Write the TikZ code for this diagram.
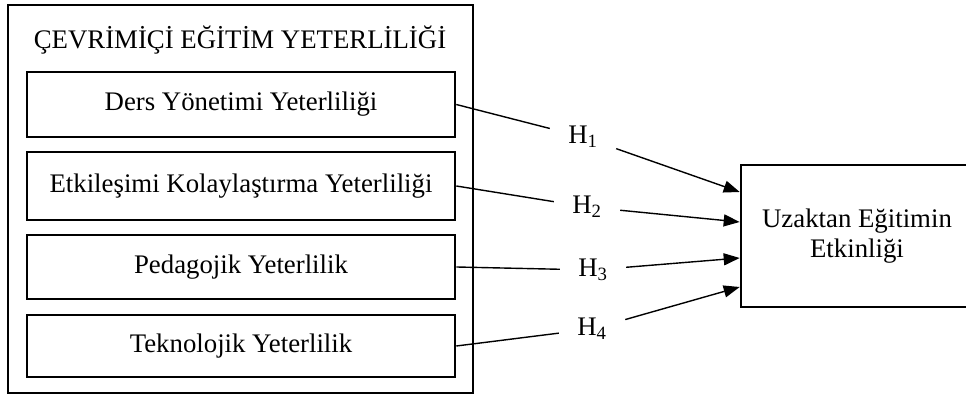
\documentclass[tikz,border=0pt]{standalone}
\usepackage{fontspec}
\setmainfont{Liberation Serif}
\usetikzlibrary{arrows.meta}
\begin{document}
\begin{tikzpicture}[x=1pt,y=1pt,
    every node/.style={font=\fontsize{26.8}{30}\selectfont},
    frame/.style={draw, line width=2.6pt, inner sep=0pt},
    dim/.style={frame, minimum width=428pt, minimum height=64pt},
    hyp/.style={minimum width=66pt, minimum height=30pt, inner sep=0pt},
    link/.style={line width=1.4pt}]
  \useasboundingbox (0,0) rectangle (966,398);
  \node[frame, minimum width=465pt, minimum height=388pt] (outer) at (240.5,199) {};
  \node (title) at (240,358) {ÇEVRİMİÇİ EĞİTİM YETERLİLİĞİ};
  \node[dim, minimum height=65pt] (ders) at (241,293.5) {Ders Yönetimi Yeterliliği};
  \node[dim, minimum height=68pt] (etkilesim) at (241,212) {Etkileşimi Kolaylaştırma Yeterliliği};
  \node[dim] (pedagojik) at (241,131) {Pedagojik Yeterlilik};
  \node[dim, minimum height=62pt] (teknolojik) at (241,52) {Teknolojik Yeterlilik};
  \node[frame, minimum width=232pt, minimum height=142pt, align=center] (uzaktan) at (857,162) {Uzaktan Eğitimin\\Etkinliği};
  \node[hyp] (h1) at (583,261) {H\textsubscript{1}};
  \node[hyp] (h2) at (587,191) {H\textsubscript{2}};
  \node[hyp] (h3) at (593,128) {H\textsubscript{3}};
  \node[hyp] (h4) at (592,69) {H\textsubscript{4}};
  \draw[link] (ders.east) -- (h1);
  \draw[link] (etkilesim.east) -- (h2);
  \draw[link] (pedagojik.east) -- (h3);
  \draw[link] (teknolojik.east) -- (h4);
  \draw[link, -{Triangle[length=16pt,width=12pt]}] (h1) -- ([yshift=44pt]uzaktan.west);
  \draw[link, -{Triangle[length=16pt,width=12pt]}] (h2) -- ([yshift=14pt]uzaktan.west);
  \draw[link, -{Triangle[length=16pt,width=12pt]}] (h3) -- ([yshift=-22pt]uzaktan.west);
  \draw[link, -{Triangle[length=16pt,width=12pt]}] (h4) -- ([yshift=-51pt]uzaktan.west);
\end{tikzpicture}
\end{document}
